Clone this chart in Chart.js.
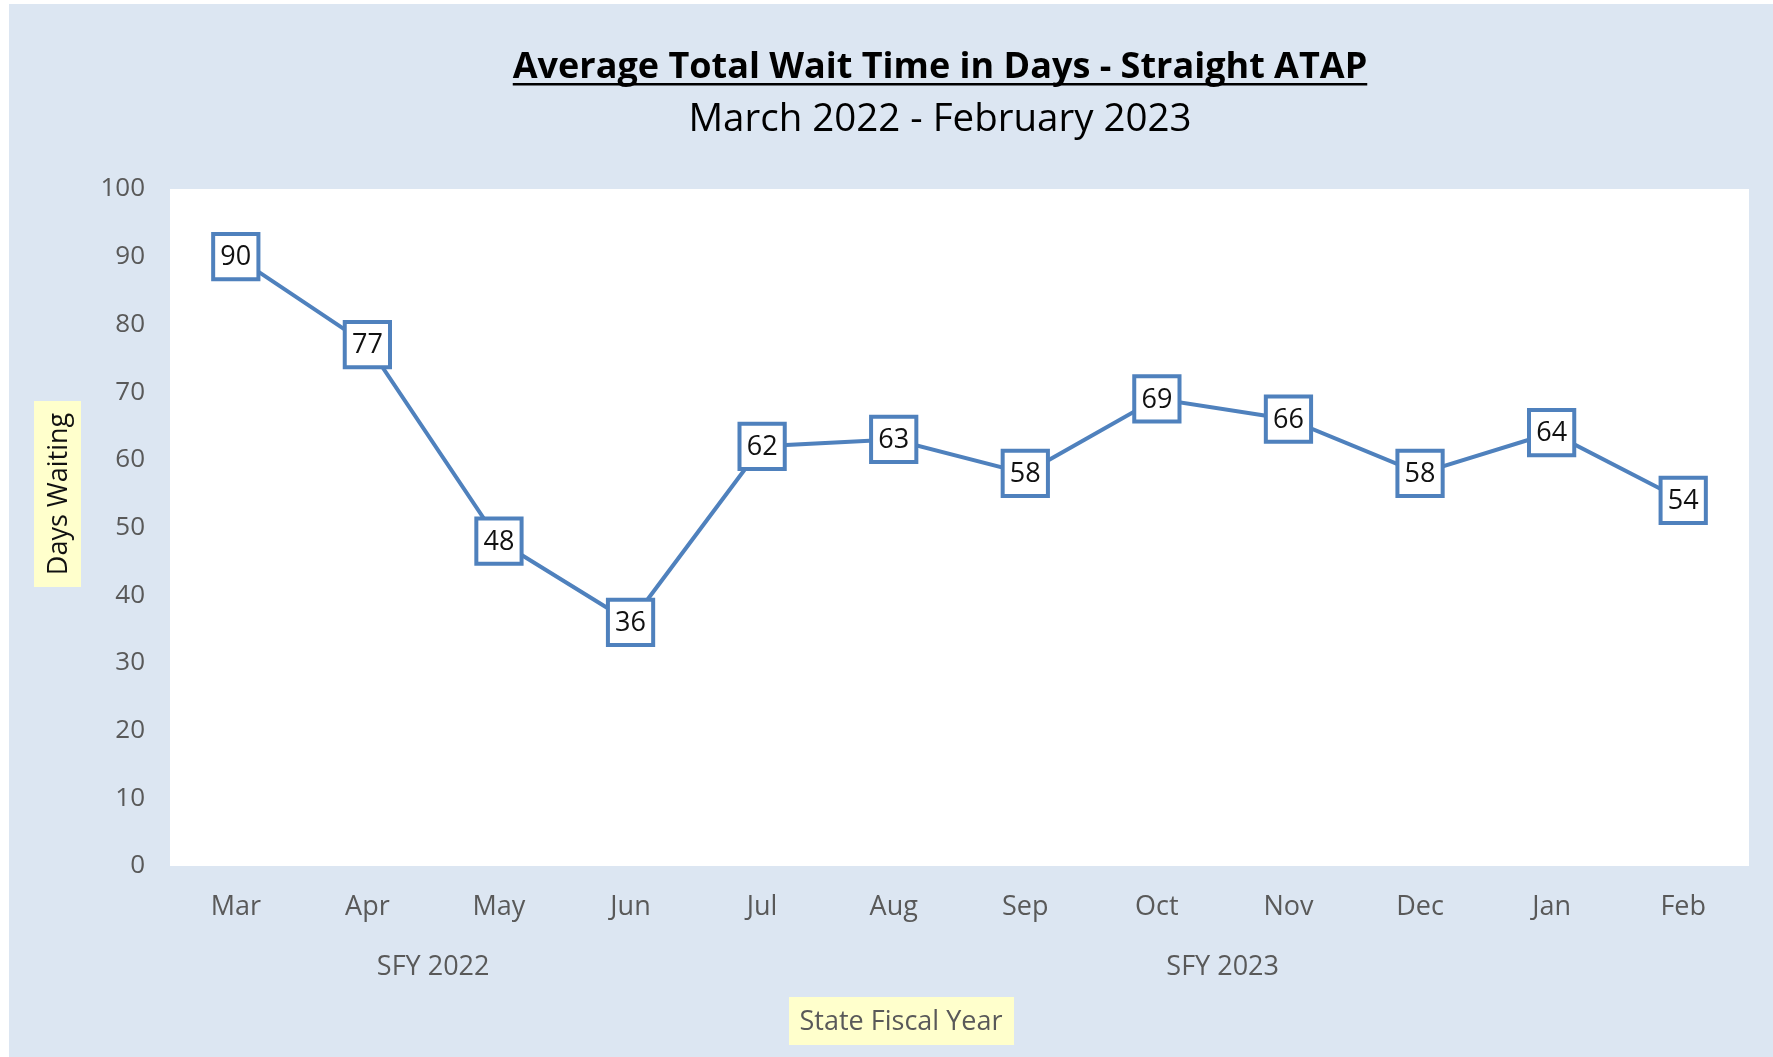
<!DOCTYPE html>
<html>
<head>
<meta charset="utf-8">
<script src="https://cdn.jsdelivr.net/npm/chart.js@4"></script>
<style>
  html, body { margin: 0; padding: 0; background: #fff; }
  #wrap { width: 1773px; height: 1057px; }
</style>
</head>
<body>
<div id="wrap"><canvas id="myChart" width="1773" height="1057"></canvas></div>
<script>
const months = ['Mar', 'Apr', 'May', 'Jun', 'Jul', 'Aug', 'Sep', 'Oct', 'Nov', 'Dec', 'Jan', 'Feb'];
const waitDays = [90, 77, 48, 36, 62, 63, 58, 69, 66, 58, 64, 54];
const fiscalYears = ['SFY 2022', 'SFY 2023'];
const monthFiscalYear = [0, 0, 0, 0, 1, 1, 1, 1, 1, 1, 1, 1];

const chartTitle = 'Average Total Wait Time in Days - Straight ATAP';
const chartSubtitle = 'March 2022 - February 2023';

const blue = '#4f81bd';
const grey = '#595959';

// background, titles, labels in boxes, axis titles, fiscal year groups
const decor = {
    id: 'decor',
    beforeDraw(chart) {
        const ctx = chart.ctx;
        const a = chart.chartArea;
        ctx.save();
        ctx.fillStyle = '#ffffff';
        ctx.fillRect(0, 0, chart.width, chart.height);
        ctx.fillStyle = '#dce6f2';
        ctx.fillRect(9, 4, chart.width - 9, chart.height - 4);
        ctx.fillStyle = '#ffffff';
        ctx.fillRect(a.left, a.top, a.right - a.left, a.bottom - a.top);
        ctx.restore();
    },
    afterDatasetsDraw(chart) {
        const ctx = chart.ctx;
        const meta = chart.getDatasetMeta(0);
        ctx.save();
        ctx.font = '27px "Open Sans"';
        ctx.fillStyle = '#111111';
        ctx.textAlign = 'center';
        ctx.textBaseline = 'middle';
        meta.data.forEach((pt, i) => {
            ctx.fillText(String(waitDays[i]), pt.x, pt.y + 1);
        });
        ctx.restore();
    },
    afterDraw(chart) {
        const ctx = chart.ctx;
        const x = chart.scales.x;
        ctx.save();
        ctx.textAlign = 'center';

        // titles
        const cx = 940;
        ctx.fillStyle = '#000000';
        ctx.textBaseline = 'alphabetic';
        ctx.font = 'bold 36px "Open Sans"';
        ctx.fillText(chartTitle, cx, 78);
        const tw = ctx.measureText(chartTitle).width;
        ctx.fillRect(cx - tw / 2, 83, tw, 2.5);
        ctx.font = '38.5px "Open Sans"';
        ctx.fillText(chartSubtitle, cx, 131);

        // fiscal year group labels
        ctx.textBaseline = 'middle';
        ctx.font = '27px "Open Sans"';
        ctx.fillStyle = grey;
        fiscalYears.forEach((fy, g) => {
            const idx = monthFiscalYear.map((v, i) => v === g ? i : -1).filter(i => i >= 0);
            const first = x.getPixelForValue(idx[0]);
            const last = x.getPixelForValue(idx[idx.length - 1]);
            ctx.fillText(fy, (first + last) / 2, 967);
        });

        // x axis title
        ctx.fillStyle = '#ffffcc';
        ctx.fillRect(789, 997, 225, 48);
        ctx.fillStyle = grey;
        ctx.fillText('State Fiscal Year', 901, 1022);

        // y axis title
        ctx.fillStyle = '#ffffcc';
        ctx.fillRect(34, 401, 47, 186);
        ctx.translate(58, 494);
        ctx.rotate(-Math.PI / 2);
        ctx.fillStyle = '#111111';
        ctx.font = '27px "Open Sans"';
        ctx.fillText('Days Waiting', 0, 1);
        ctx.restore();
    }
};

Chart.defaults.font.family = '"Open Sans"';

const ctx = document.getElementById('myChart');

new Chart(ctx, {
    type: 'line',
    data: {
        labels: months,
        datasets: [{
            label: 'Days Waiting',
            data: waitDays,
            borderColor: blue,
            borderWidth: 4,
            tension: 0,
            pointStyle: 'rect',
            pointRadius: 32,
            pointBorderWidth: 4,
            pointBorderColor: blue,
            pointBackgroundColor: '#ffffff',
            clip: false
        }]
    },
    options: {
        responsive: false,
        animation: false,
        events: [],
        layout: {
            autoPadding: false,
            padding: { left: 0, right: 24, top: 189, bottom: 0 }
        },
        plugins: {
            legend: { display: false },
            tooltip: { enabled: false },
            title: { display: false }
        },
        scales: {
            x: {
                offset: true,
                grid: { display: false, drawTicks: false },
                border: { display: false },
                ticks: { color: grey, font: { size: 27 }, padding: 25, maxRotation: 0 },
                afterFit: (s) => { s.height = 191; }
            },
            y: {
                min: 0,
                max: 100,
                grid: { display: false, drawTicks: false },
                border: { display: false },
                ticks: { stepSize: 10, color: grey, font: { size: 26 }, padding: 25 },
                afterFit: (s) => { s.width = 170; }
            }
        }
    },
    plugins: [decor]
});
</script>
</body>
</html>
